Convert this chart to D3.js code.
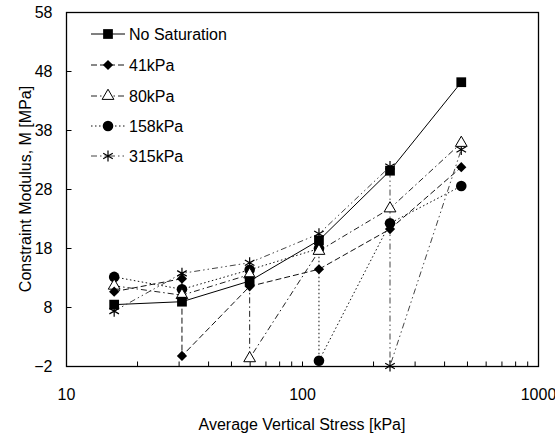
<!DOCTYPE html>
<html>
<head>
<meta charset="utf-8">
<script src="https://cdn.jsdelivr.net/npm/d3@7"></script>
<style>
  body { margin: 0; background: #fff; }
  text { font-family: "Liberation Sans", Arial, sans-serif; }
</style>
</head>
<body>
<script>
// values
const names = ["No Saturation", "41kPa", "80kPa", "158kPa", "315kPa"];
const xNoSat = [16, 31, 60, 118, 236, 473];
const yNoSat = [8.4, 8.9, 12.4, 19.3, 31.1, 46.1];
const x41 = [16, 31, 31, 60, 118, 236, 473];
const y41 = [10.6, 12.8, -0.3, 11.5, 14.4, 21.2, 31.7];
const x80 = [16, 31, 60, 60, 118, 236, 473];
const y80 = [11.6, 10.0, 13.5, -0.7, 17.5, 24.7, 35.8];
const x158 = [16, 31, 60, 118, 118, 236, 473];
const y158 = [13.1, 11.0, 14.3, 17.9, -1.1, 22.2, 28.5];
const x315 = [16, 31, 60, 118, 236, 236, 473];
const y315 = [7.3, 13.7, 15.5, 20.4, 31.8, -2, 34.7];
const yTicks = [-2, 8, 18, 28, 38, 48, 58];
const xTicks = [10, 20, 30, 40, 50, 60, 70, 80, 90, 100, 200, 300, 400, 500, 600, 700, 800, 900, 1000];

const W = 555, H = 441;
const L = 66, T = 12, R = 538, B = 366;

const svg = d3.select("body").append("svg")
  .attr("width", W)
  .attr("height", H);

const x = d3.scaleLog().domain([10, 1000]).range([L, R]);
const y = d3.scaleLinear().domain([-2, 58]).range([B, T]);

// frame
svg.append("rect")
  .attr("x", L + 0.5).attr("y", T + 0.5)
  .attr("width", R - L).attr("height", B - T)
  .attr("fill", "none").attr("stroke", "#000").attr("stroke-width", 1.3);

const gy = svg.append("g")
  .attr("transform", `translate(${L + 0.5},0)`)
  .call(d3.axisLeft(y).tickValues(yTicks).tickSizeInner(-5).tickSizeOuter(0).tickPadding(14));
gy.select(".domain").remove();
gy.selectAll("text").attr("font-size", 16).attr("font-family", "Liberation Sans, Arial, sans-serif").attr("fill", "#000");

const gx = svg.append("g")
  .attr("transform", `translate(0,${B + 0.5})`)
  .call(d3.axisBottom(x).tickValues(xTicks).tickSizeInner(-5).tickSizeOuter(0).tickPadding(22)
    .tickFormat(d => Number.isInteger(Math.log10(d)) ? d : ""));
gx.select(".domain").remove();
gx.selectAll("text").attr("font-size", 16).attr("font-family", "Liberation Sans, Arial, sans-serif").attr("fill", "#000");

// axis titles
svg.append("text")
  .attr("x", (L + R) / 2)
  .attr("y", 430)
  .attr("text-anchor", "middle")
  .attr("font-size", 16)
  .text("Average Vertical Stress [kPa]");

svg.append("text")
  .attr("transform", `translate(31,${(T + B) / 2}) rotate(-90)`)
  .attr("text-anchor", "middle")
  .attr("font-size", 16)
  .text("Constraint Modulus, M [MPa]");

// marker shapes
function star(s) {
  const r = s;
  const d = r * 0.87;
  return `M0,${-r}L0,${r}M${-d},${-r * 0.5}L${d},${r * 0.5}M${-d},${r * 0.5}L${d},${-r * 0.5}`;
}
const markers = [
  g => g.append("path").attr("d", d3.symbol(d3.symbolSquare, 95)()).attr("fill", "#000"),
  g => g.append("path").attr("d", d3.symbol(d3.symbolSquare, 52)()).attr("transform", "rotate(45)").attr("fill", "#000"),
  g => g.append("path").attr("d", d3.symbol(d3.symbolTriangle, 60)()).attr("fill", "#fff").attr("stroke", "#000").attr("stroke-width", 1),
  g => g.append("circle").attr("r", 5.3).attr("fill", "#000"),
  g => g.append("path").attr("d", star(5.5)).attr("fill", "none").attr("stroke", "#000").attr("stroke-width", 1.2)
];
const dashes = [null, "6,3", "6,3,1.5,3", "1.5,2.5", "6,3,1.5,3,1.5,3"];
const colors = ["#000", "#111", "#222", "#111", "#444"];

const series = [
  [xNoSat, yNoSat],
  [x41, y41],
  [x80, y80],
  [x158, y158],
  [x315, y315]
];

const line = d3.line().x(d => x(d[0])).y(d => y(d[1]));

// draw lines first, then markers
series.forEach((s, i) => {
  const pts = s[0].map((v, j) => [v, s[1][j]]);
  svg.append("path")
    .datum(pts)
    .attr("d", line)
    .attr("fill", "none")
    .attr("stroke", colors[i])
    .attr("stroke-width", 1)
    .attr("stroke-dasharray", dashes[i]);
});
[4, 3, 2, 1, 0].forEach(i => {
  const s = series[i];
  s[0].forEach((v, j) => {
    const g = svg.append("g").attr("transform", `translate(${x(v)},${y(s[1][j])})`);
    markers[i](g);
  });
});

// legend
const legY = [34, 65, 96, 126, 156];
names.forEach((n, i) => {
  svg.append("line")
    .attr("x1", 91).attr("x2", 125)
    .attr("y1", legY[i]).attr("y2", legY[i])
    .attr("stroke", colors[i]).attr("stroke-width", 1)
    .attr("stroke-dasharray", dashes[i]);
  const g = svg.append("g").attr("transform", `translate(108,${legY[i]})`);
  markers[i](g);
  svg.append("text")
    .attr("x", 129).attr("y", legY[i] + 6)
    .attr("font-size", 16)
    .text(n);
});
</script>
</body>
</html>
